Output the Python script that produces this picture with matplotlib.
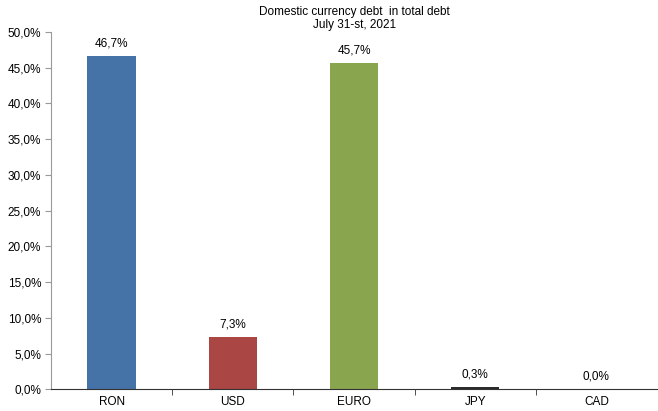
import matplotlib
matplotlib.use("Agg")
import matplotlib.pyplot as plt
from matplotlib.ticker import FuncFormatter, MultipleLocator, FixedLocator

plt.rcParams["font.family"] = ["Liberation Sans", "DejaVu Sans"]
plt.rcParams["font.size"] = 8.5

currencies = ["RON", "USD", "EURO", "JPY", "CAD"]
shares = [46.7, 7.3, 45.7, 0.3, 0.04]
colors = ["#4572A7", "#AA4643", "#89A54E", "#2B2B2B", "#3D6B2E"]


def pct(v):
    return f"{v:.1f}%".replace(".", ",")


fig = plt.figure(figsize=(6.58, 4.11), dpi=100)
ax = fig.add_axes([0.0775, 0.053, 0.921, 0.869])

x = range(len(currencies))
ax.bar(x, shares, width=0.4, color=colors)
for xi, v in zip(x, shares):
    ax.text(xi, v + 0.9, pct(v), ha="center", va="bottom")

ax.set_xlim(-0.5, len(currencies) - 0.5)
ax.set_ylim(0, 50)
ax.yaxis.set_major_locator(MultipleLocator(5))
ax.yaxis.set_major_formatter(FuncFormatter(lambda v, _: pct(v)))

ax.set_xticks(list(x))
ax.set_xticklabels(currencies)
ax.tick_params(axis="x", which="major", length=0, pad=5)
ax.xaxis.set_minor_locator(FixedLocator([i + 0.5 for i in range(len(currencies) - 1)]))
ax.tick_params(axis="x", which="minor", length=4, direction="out", color="#333333")
ax.tick_params(axis="y", length=4, direction="out", color="#999999", pad=3)

for side in ["top", "right"]:
    ax.spines[side].set_visible(False)
ax.spines["left"].set_color("#999999")
ax.spines["bottom"].set_color("#333333")

fig.text(0.539, 0.985, "Domestic currency debt  in total debt\nJuly 31-st, 2021",
         ha="center", va="top", linespacing=1.1)

fig.savefig("out.png", dpi=100)
